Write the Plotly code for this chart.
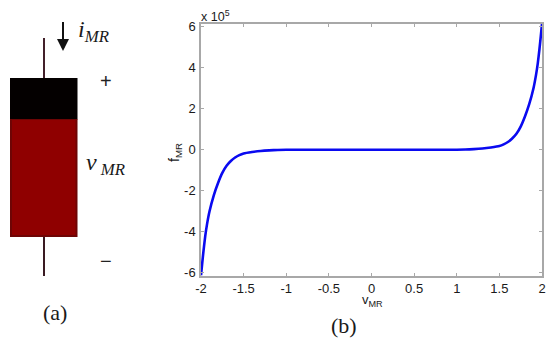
import plotly.graph_objects as go

W, H = 550, 342
v_mr = [-2.0, -1.985, -1.97, -1.95, -1.93, -1.9, -1.85, -1.8, -1.75, -1.7, -1.65, -1.6, -1.55, -1.5, -1.4, -1.3, -1.2, -1.1, -1.0, -0.8, -0.5, 0,
        0.5, 0.8, 1.0, 1.1, 1.2, 1.3, 1.4, 1.5, 1.55, 1.6, 1.65, 1.7, 1.75, 1.8, 1.85, 1.9, 1.93, 1.95, 1.97, 1.985, 2.0]
f_mr = [-6.13, -5.5, -4.9, -4.2, -3.65, -3.0, -2.22, -1.62, -1.13, -0.78, -0.55, -0.38, -0.26, -0.18, -0.11, -0.06, -0.03, -0.01, -0.003, 0, 0, 0,
        0, 0, 0.003, 0.01, 0.03, 0.06, 0.11, 0.18, 0.26, 0.38, 0.55, 0.78, 1.13, 1.62, 2.22, 3.0, 3.65, 4.2, 4.9, 5.5, 6.13]
x_ticks = [-2, -1.5, -1, -0.5, 0, 0.5, 1, 1.5, 2]
x_labels = ["-2", "-1.5", "-1", "-0.5", "0", "0.5", "1", "1.5", "2"]
y_ticks = [-6, -4, -2, 0, 2, 4, 6]
y_labels = ["-6", "-4", "-2", "0", "2", "4", "6"]

# Page pixel to paper fraction (the plot area sits 5 px inside the page)
def px(x): return (x - 5) / (W - 10)
def py(y): return 1 - (y - 5) / (H - 10)

FONT = "Liberation Sans"
SERIF = "Liberation Serif"
INK = "#1a1a1a"
AX = "#a8a8a8"

fig = go.Figure(go.Scatter(x=v_mr, y=f_mr, mode="lines", line=dict(color="#0a0af0", width=2.6, shape="spline", smoothing=0.6), cliponaxis=False, hoverinfo="skip"))

axis = dict(showgrid=False, zeroline=False, showline=True, linecolor=AX, linewidth=1.5,
            mirror="ticks", ticks="inside", ticklen=3, tickcolor=AX, tickwidth=1,
            tickfont=dict(family=FONT, size=13, color=INK))
fig.update_layout(
    width=W, height=H, margin=dict(l=0, r=0, t=0, b=0), autosize=False,
    paper_bgcolor="white", plot_bgcolor="white", showlegend=False,
    xaxis=dict(axis, domain=[px(200), px(541)], range=[-2, 2], tickmode="array",
               tickvals=x_ticks, ticktext=x_labels, ticklabelstandoff=0),
    yaxis=dict(axis, domain=[py(275.5), py(24)], range=[-6.13, 6.13], tickmode="array",
               tickvals=y_ticks, ticktext=y_labels, ticklabelstandoff=1),
)

def rect(x0, y0, x1, y1, color):
    fig.add_shape(type="rect", xref="paper", yref="paper", x0=px(x0), x1=px(x1), y0=py(y0), y1=py(y1),
                  fillcolor=color, line=dict(width=0))

def line(x0, y0, x1, y1, color, width):
    fig.add_shape(type="line", xref="paper", yref="paper", x0=px(x0), x1=px(x1), y0=py(y0), y1=py(y1),
                  line=dict(color=color, width=width))

def text(x, y, s, size, family=FONT, color=INK, angle=0):
    fig.add_annotation(xref="paper", yref="paper", x=px(x), y=py(y), text=s, showarrow=False,
                       font=dict(family=family, size=size, color=color), textangle=angle,
                       xanchor="center", yanchor="middle")

# Component sketch (a)
line(43, 38, 43, 78, "#43202a", 2)
line(43, 237, 43, 276, "#3a1a22", 2)
rect(9, 78, 76.5, 119.5, "#040000")
rect(9, 119, 76.5, 237, "#6e0505")
rect(11, 120, 74.5, 235, "#8f0000")

line(62, 22, 62, 41, "#111111", 2)
fig.add_annotation(xref="paper", yref="paper", axref="pixel", ayref="pixel",
                   x=px(62), y=py(51), ax=0, ay=-13, text="", showarrow=True,
                   arrowhead=2, arrowsize=1, arrowwidth=2.4, arrowcolor="#111111")

text(92, 31, "<i>i<sub>MR</sub></i>", 24, SERIF)
text(105, 81, "+", 20, FONT, "#222222")
text(105, 261, "\u2212", 20, FONT, "#222222")
text(104, 164, "<i>v<sub> MR</sub></i>", 24, SERIF)
text(54, 312, "(a)", 22, SERIF)
text(343, 325, "(b)", 22, SERIF)

# Axis titles of (b)
text(371, 300, "v<sub>MR</sub>", 13)
text(174, 153, "f<sub>MR</sub>", 14, angle=-90)
text(214, 16, "x 10<sup>5</sup>", 12.5)

fig.write_html("out.html", config={"displayModeBar": False},
               post_script="document.body.style.margin='0';document.documentElement.style.overflow='hidden';")
